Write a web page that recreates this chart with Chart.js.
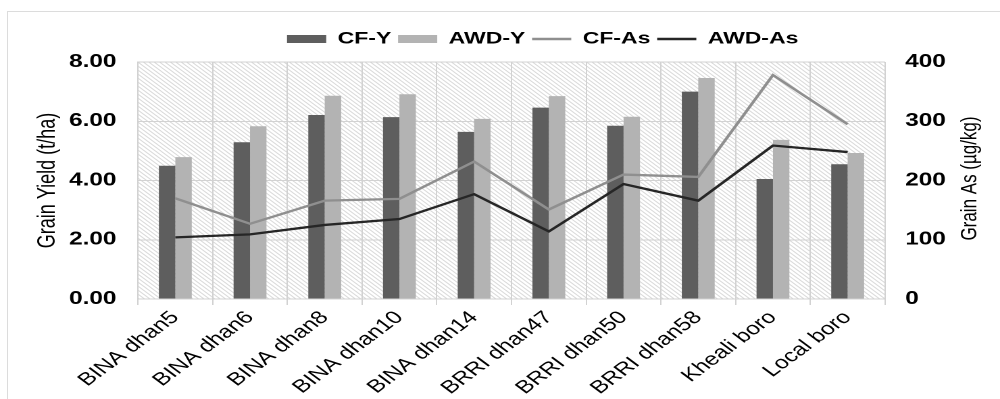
<!DOCTYPE html>
<html><head><meta charset="utf-8">
<script src="https://cdn.jsdelivr.net/npm/chart.js@4.4.1/dist/chart.umd.min.js"></script>
<style>
html,body{margin:0;padding:0;background:#fff;width:1000px;height:399px;overflow:hidden;}
#frame{position:absolute;left:7px;top:11px;width:1100px;height:500px;border:1.5px solid #dcdcdc;}
#wrap{position:absolute;left:0;top:0;width:740px;height:399px;transform:scaleX(1.351351);transform-origin:0 0;}
</style></head><body>
<div id="frame"></div>
<div id="wrap"><canvas id="c"></canvas></div>
<script>
// ---- data ----
const categories = ['BINA dhan5','BINA dhan6','BINA dhan8','BINA dhan10','BINA dhan14','BRRI dhan47','BRRI dhan50','BRRI dhan58','Kheali boro','Local boro'];
const cfYield  = [4.50, 5.29, 6.21, 6.14, 5.64, 6.46, 5.85, 7.00, 4.05, 4.55];
const awdYield = [4.79, 5.83, 6.86, 6.91, 6.08, 6.85, 6.15, 7.46, 5.37, 4.93];
const cfAs     = [170, 127, 166, 169, 232, 151, 210, 206, 378, 295];
const awdAs    = [104, 109, 125, 135, 177, 114, 194, 166, 259, 248];
const yieldTicks = [0, 2, 4, 6, 8];
const asTicks    = [0, 100, 200, 300, 400];
const seriesNames = ['CF-Y', 'AWD-Y', 'CF-As', 'AWD-As'];
const yieldTitle = 'Grain Yield (t/ha)';
const asTitle = 'Grain As (µg/kg)';

// ---- layout (canvas units; canvas is 740 wide, stretched to 1000) ----
const FONT = "'Liberation Sans', Arial, sans-serif";
Chart.defaults.font.family = FONT;
Chart.defaults.color = '#000';
const GRID = '#d2d2d2';
const LEG_LEFT = 212.4, LEG_TOP = 25.5;

const tile = (() => {
  const t = document.createElement('canvas'); t.width = 8; t.height = 8;
  const g = t.getContext('2d');
  g.fillStyle = '#ffffff'; g.fillRect(0, 0, 8, 8);
  g.strokeStyle = '#d8d8d8'; g.lineWidth = 1.6;
  g.beginPath();
  g.moveTo(-2, -2); g.lineTo(10, 10);
  g.moveTo(-2, 6); g.lineTo(2, 10);
  g.moveTo(6, -2); g.lineTo(10, 2);
  g.stroke();
  return t;
})();

const helper = {
  id: 'helper',
  afterLayout(chart) {
    const lg = chart.legend;
    if (lg) {
      const dx = LEG_LEFT - lg.options.labels.padding - lg.left;
      lg.left += dx; lg.right += dx;
      const h = lg.height;
      lg.top = LEG_TOP; lg.bottom = LEG_TOP + h;
    }
  },
  beforeDraw(chart) {
    const {ctx, chartArea: a} = chart;
    const p = ctx.createPattern(tile, 'repeat');
    p.setTransform(new DOMMatrix().scale(0.5));
    ctx.save();
    ctx.fillStyle = p;
    ctx.fillRect(a.left, a.top, a.right - a.left, a.bottom - a.top);
    ctx.restore();
  },
  afterDraw(chart) {
    const {ctx, chartArea: a} = chart;
    ctx.save();
    ctx.translate(717.8, (a.top + a.bottom) / 2 - 2);
    ctx.rotate(-Math.PI / 2);
    ctx.font = '17px ' + FONT;
    ctx.fillStyle = '#000';
    ctx.textAlign = 'center';
    ctx.textBaseline = 'middle';
    ctx.fillText(asTitle, 0, 0);
    ctx.restore();
  }
};

new Chart(document.getElementById('c'), {
  type: 'bar',
  data: {
    labels: categories,
    datasets: [
      {label: seriesNames[0], data: cfYield, yAxisID: 'y', backgroundColor: '#5e5e5e', order: 3},
      {label: seriesNames[1], data: awdYield, yAxisID: 'y', backgroundColor: '#b3b3b3', order: 4},
      {label: seriesNames[2], type: 'line', data: cfAs, yAxisID: 'y1', borderColor: '#8f8f8f', backgroundColor: '#8f8f8f', borderWidth: 2.3, pointRadius: 0, tension: 0, order: 2},
      {label: seriesNames[3], type: 'line', data: awdAs, yAxisID: 'y1', borderColor: '#262626', backgroundColor: '#262626', borderWidth: 2.3, pointRadius: 0, tension: 0, order: 1}
    ]
  },
  options: {
    responsive: true,
    maintainAspectRatio: false,
    devicePixelRatio: 2,
    animation: false,
    categoryPercentage: 0.44,
    barPercentage: 1.0,
    layout: {padding: {top: 30, left: 0, right: 0, bottom: 0}},
    plugins: {
      tooltip: {enabled: false},
      legend: {
        position: 'top',
        align: 'start',
        labels: {
          usePointStyle: true,
          pointStyleWidth: 29,
          boxHeight: 8,
          padding: 5,
          color: '#000',
          font: {size: 17, weight: 'bold'},
          generateLabels(chart) {
            return chart.data.datasets.map((ds, i) => {
              const isLine = ds.type === 'line';
              return {
                text: ds.label, datasetIndex: i, hidden: false,
                fillStyle: isLine ? ds.borderColor : ds.backgroundColor,
                strokeStyle: isLine ? ds.borderColor : ds.backgroundColor,
                lineWidth: isLine ? 2.5 : 0,
                pointStyle: isLine ? 'line' : 'rect',
                fontColor: '#000'
              };
            });
          }
        }
      }
    },
    scales: {
      x: {
        offset: true,
        grid: {offset: true, color: GRID, lineWidth: 1, tickLength: 6, tickColor: GRID, drawTicks: true},
        border: {color: GRID},
        ticks: {font: {size: 18}, color: '#000', minRotation: 45, maxRotation: 45, autoSkip: false, padding: 2},
        afterFit(s) { s.height = 100; }
      },
      y: {
        position: 'left',
        min: 0, max: 8,
        afterBuildTicks(s) { s.ticks = yieldTicks.map(v => ({value: v})); },
        ticks: {callback: v => Number(v).toFixed(2), font: {size: 18, weight: 'bold'}, color: '#000', padding: 16},
        grid: {color: GRID, drawTicks: false},
        border: {color: GRID},
        title: {display: true, text: yieldTitle, font: {size: 18}, color: '#000', padding: {top: 24.7, bottom: 0}},
        afterFit(s) { s.width = 102.1; }
      },
      y1: {
        position: 'right',
        min: 0, max: 400,
        afterBuildTicks(s) { s.ticks = asTicks.map(v => ({value: v})); },
        ticks: {font: {size: 18, weight: 'bold'}, color: '#000', padding: 15},
        grid: {drawOnChartArea: false, drawTicks: false},
        border: {display: false},
        afterFit(s) { s.width = 85.1; }
      }
    }
  },
  plugins: [helper]
});
</script>
</body></html>
